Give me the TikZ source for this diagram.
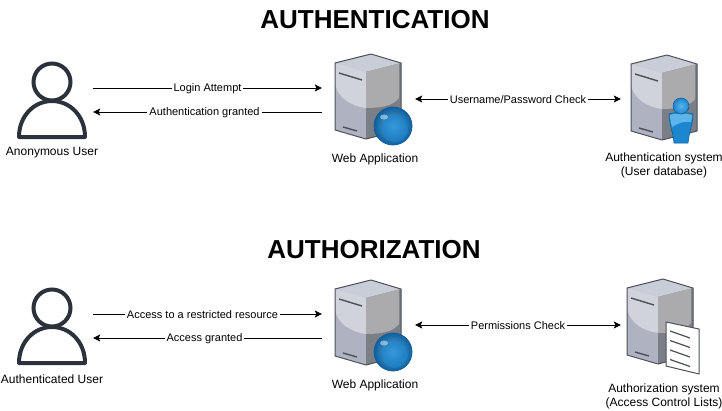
\documentclass[tikz,border=0pt]{standalone}
\usepackage{fontspec}
\setmainfont{Liberation Sans}
\usetikzlibrary{arrows.meta}
\definecolor{inkdark}{HTML}{2B323C}
\definecolor{srvedge}{HTML}{4C5059}
\definecolor{srvtop}{HTML}{C9CDD8}
\definecolor{srvfront}{HTML}{D0D3DC}
\definecolor{srvlow}{HTML}{AFB3C1}
\definecolor{srvside}{HTML}{ABABAD}
\definecolor{srvshade}{HTML}{7A7E87}
\definecolor{ballblue}{HTML}{1C87CF}
\definecolor{balllight}{HTML}{5DB4EA}
\definecolor{balldark}{HTML}{0F5F9C}
\tikzset{
  iconbox/.style={minimum width=#1,minimum height=76pt,inner sep=0pt},
  iconbox/.default=93pt,
  flow/.style={line width=0.8pt,-{Stealth[length=7pt,width=7pt,inset=1.5pt]}},
  flowboth/.style={line width=0.8pt,{Stealth[length=7pt,width=7pt,inset=1.5pt]}-{Stealth[length=7pt,width=7pt,inset=1.5pt]}},
  flowtext/.style={fill=white,inner sep=2pt,yshift=-0.6pt,font=\fontsize{11}{12}\selectfont},
  icontext/.style={align=center,inner sep=0pt,font=\fontsize{12}{14}\selectfont},
  headline/.style={inner sep=0pt,font=\fontsize{26}{30}\selectfont\bfseries},
  pics/server/.style={code={
    \fill[srvtop] (-36,9) -- (0,0) -- (30,9) -- (-5,18) -- cycle;
    \fill[srvlow] (-36,9) -- (-5,18) -- (-5,85) -- (-36,76) -- cycle;
    \fill[srvfront] (-36,9) -- (-5,18) -- (-5,54) .. controls (-20,52) and (-33,44) .. (-36,30) -- cycle;
    \fill[srvshade] (-5,18) -- (30,9) -- (30,76) -- (-5,85) -- cycle;
    \fill[srvside] (-5,18) -- (28,9.5) -- (28,44) .. controls (22,52) and (10,54) .. (-5,54) -- cycle;
    \draw[srvedge,line width=1pt,line join=round] (-36,9) -- (0,0) -- (30,9) -- (30,76) -- (-5,85) -- (-36,76) -- cycle;
    \draw[srvedge,line width=1.4pt] (-32,19) -- (-9,26) (-28,73) -- (-14,77);
  }},
  pics/globe/.style={code={
    \shade[inner color=balllight,outer color=balldark,draw=balldark,line width=0.8pt] (0,0) circle (19);
    \fill[ballblue,opacity=0.6] (2,3) circle (13);
    \fill[white,opacity=0.45] (-9,-9) ellipse (4 and 2.5);
  }},
  pics/person/.style={code={
    \draw[balldark,line width=0.6pt,fill=ballblue] (-12,8) .. controls (-6,6) and (6,6) .. (12,8) .. controls (12,18) and (8,26) .. (7,37) -- (-7,37) .. controls (-8,26) and (-12,18) .. (-12,8) -- cycle;
    \fill[balllight] (-11,9) .. controls (-6,7) and (6,7) .. (11,9) .. controls (11,12) and (11,14) .. (10,16) .. controls (3,15) and (-3,17) .. (-9,21) .. controls (-10,17) and (-11,13) .. (-11,9) -- cycle;
    \shade[inner color=balllight,outer color=ballblue,draw=balldark,line width=0.6pt] (0,0) circle (8);
  }},
  pics/sheet/.style={code={
    \draw[srvedge,fill=white,line width=1pt,line join=round] (0,0) -- (33,7) -- (33,52) -- (0,44) -- cycle;
    \foreach \i in {0,1,2,3}
      \draw[srvedge,line width=1.2pt] (4,{9+9.5*\i}) -- (24,{16+9.5*\i});
  }},
  pics/enduser/.style={code={
    \draw[inkdark,line width=4pt] (0,-26) circle (18.5);
    \draw[inkdark,line width=4pt,line join=round] (-33,29) .. controls (-33,8) and (-18,-7) .. (0,-7) .. controls (18,-7) and (33,8) .. (33,29) -- cycle;
  }}
}
\begin{document}
\begin{tikzpicture}[x=1pt,y=-1pt]
  \useasboundingbox (0,0) rectangle (722,410);

  % Headings
  \node[headline] (authntitle) at (375,20) {AUTHENTICATION};
  \node[headline] (authztitle) at (374,250) {AUTHORIZATION};

  % Top row
  \node[iconbox=82pt] (anon) at (52,108) {};
  \node[iconbox] (webone) at (368.5,100) {};
  \node[iconbox=90pt] (authsys) at (666,100) {};
  \pic at (52,108) {enduser};
  \pic at (371,54) {server};
  \pic at (393,126) {globe};
  \pic at (667,55) {server};
  \pic at (681,106) {person};
  \node[icontext] at (52,153) {Anonymous User};
  \node[icontext] at (375,159) {Web Application};
  \node[icontext] at (664,165) {Authentication system\\(User database)};

  % Bottom row
  \node[iconbox=82pt] (authd) at (52,334) {};
  \node[iconbox] (webtwo) at (368.5,326) {};
  \node[iconbox=90pt] (aclsys) at (666,326) {};
  \pic at (52,334) {enduser};
  \pic at (371,280) {server};
  \pic at (393,352) {globe};
  \pic at (663,279) {server};
  \pic at (666,322) {sheet};
  \node[icontext] at (52,379) {Authenticated User};
  \node[icontext] at (375,385) {Web Application};
  \node[icontext] at (664,396) {Authorization system\\(Access Control Lists)};

  % Connectors
  \path (webone.west) ++(0,-12) coordinate (webonein) ++(0,24) coordinate (weboneout);
  \draw[flow] (anon.east |- webonein) -- node[flowtext]{Login Attempt} (webonein);
  \draw[flow] (weboneout) -- node[flowtext,pos=0.513]{Authentication granted} (anon.east |- weboneout);
  \draw[flowboth] ([yshift=1pt]webone.east) -- node[flowtext]{Username/Password Check} ([yshift=1pt]authsys.west);

  \path (webtwo.west) ++(0,-12) coordinate (webtwoin) ++(0,24) coordinate (webtwoout);
  \draw[flow] (authd.east |- webtwoin) -- node[flowtext,pos=0.478]{Access to a restricted resource} (webtwoin);
  \draw[flow] (webtwoout) -- node[flowtext,pos=0.513]{Access granted} (authd.east |- webtwoout);
  \draw[flowboth] ([yshift=1pt]webtwo.east) -- node[flowtext]{Permissions Check} ([yshift=1pt]aclsys.west);
\end{tikzpicture}
\end{document}
